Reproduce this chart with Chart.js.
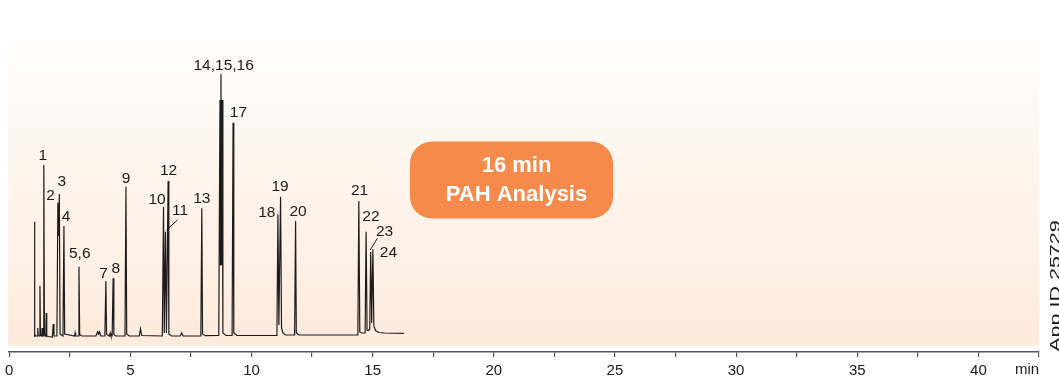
<!DOCTYPE html>
<html>
<head>
<meta charset="utf-8">
<script src="https://cdn.jsdelivr.net/npm/chart.js@4.4.1/dist/chart.umd.min.js"></script>
<style>
  html, body { margin: 0; padding: 0; background: #ffffff; }
  #wrap { width: 1059px; height: 380px; position: relative; }
</style>
</head>
<body>
<div id="wrap"><canvas id="c" width="1059" height="380"></canvas></div>
<script>
// ---------- DATA ----------
// Retention time (min) of each trace point
const traceTime = [1.03,1.04,1.065,1.10, 1.16,1.18,1.20, 1.25,1.27,1.29, 1.34,1.36,1.38,
  1.41,1.43,1.455, 1.51,1.53,1.55, 1.62, 1.78,1.82,1.85, 1.97,2.01,2.04,2.07,2.10,
  2.22,2.26,2.29, 2.70,2.72,2.74, 2.85,2.88,2.91, 3.00, 3.58,3.65,3.69,3.73,3.78,
  3.95,3.99,4.02, 4.14,4.17,4.20, 4.25,4.29,4.32,4.40, 4.78,4.82,4.85,4.95,
  5.37,5.42,5.47, 6.32,6.37,6.40,6.45,6.49,6.56,6.59,6.70, 7.06,7.12,7.18,
  7.91,7.95,7.98,8.10, 8.65,8.70,8.72,8.74,8.765,8.79,8.82,8.95, 9.20,9.24,9.27,9.40,
  11.05,11.09,11.13,11.20,11.24,11.30,11.40, 11.78,11.82,11.85,11.95,
  14.39,14.43,14.47,14.55,14.69,14.73,14.77,14.83,14.88,14.92,14.96,15.01,15.05,15.12,15.25,15.5,16.29];
// Detector response at each point (arbitrary units, baseline = 0)
const traceSignal = [-0.5,114.3,2,0, 0,8,0, 0,50.3,1, 0,8,0,
  0,171,2, 0,23,0, -0.5, -1,12,0, 0,133.3,100,142,2,
  0,110,2, 0,3,0, 0,69.3,1.5, 0, 0,4.3,2,4,0,
  0,55,1.5, 0,3,0, 0,57.7,1.5,0, 0,149.3,2,0,
  0,7,0.5, 0,129.3,3,104.3,3,155,2,0, 0,3,0,
  0,127.7,2,0.3, 0.5,236,71,262,71,236,3,0.5, 0.5,213.3,3,0.5,
  0.5,121.7,11,139.3,8,3,1, 1,115,3,1,
  1,135,4,3,3,104.3,6,5.5,7,84.3,13,86.7,10,5.5,3.5,3,2.7];

// Labelled peaks
const peakLabels  = ['1','2','3','4','5,6','7','8','9','10','11','12','13','14,15,16','17','18','19','20','21','22','23','24'];
const peakTimes   = [1.43,2.01,2.07,2.26,2.88,3.99,4.29,4.82,6.37,6.45,6.56,7.95,8.74,9.24,11.09,11.20,11.82,14.43,14.73,14.92,15.01];
const peakHeights = [171,133.3,142,110,69.3,55,57.7,149.3,129.3,104.3,155,127.7,262,213.3,121.7,139.3,115,135,104.3,84.3,86.7];

// Axis
const xMin = 0, xMax = 42.5, xStep = 2.5, xLabelEvery = 5;
const xUnit = 'min';
const badgeLines = ['16 min', 'PAH Analysis'];
const sideNote = 'App ID 25729';

// ---------- LAYOUT / STYLE ----------
const FONT = "'Liberation Sans', Arial, Helvetica, sans-serif";
// label centre offset (px) from peak apex
const labelOffsets = [[-1,-9.2],[-7.3,-6.9],[2.5,-12],[2.2,-9],[0.8,-12.7],[-2.2,-7],[2.7,-10],[0,-8.4],
  [-6.4,-7.2],[14.5,-20.9],[0.4,-10.7],[0,-10],[2.7,-8.5],[5.4,-10],[-11.1,-1.8],[-0.5,-10.4],[2.5,-9],
  [0.7,-10.5],[4.8,-14.5],[13.9,-20.4],[15.5,3.5]];
// leader lines: [peak index, x1, y1, x2, y2] offsets from apex
const leaders = [[9, 1, -1.7, 12, -11.7], [19, -0.6, -1.7, 6.7, -13.4]];

const points = traceTime.map((t, i) => ({x: t, y: traceSignal[i]}));

const bgPlugin = {
  id: 'bg',
  beforeDraw(chart) {
    const {ctx, chartArea: a} = chart;
    const top = a.top, bottom = a.bottom - 6.5;
    const g = ctx.createLinearGradient(0, top, 0, bottom);
    g.addColorStop(0, '#fffdfb');
    g.addColorStop(0.5, '#fef4eb');
    g.addColorStop(1, '#fdebdc');
    ctx.save();
    ctx.fillStyle = g;
    ctx.fillRect(a.left - 1, top, a.right - a.left + 1, bottom - top);
    ctx.restore();
  }
};

const annoPlugin = {
  id: 'anno',
  afterDatasetsDraw(chart) {
    const {ctx, scales: {x, y}} = chart;
    ctx.save();
    // peak labels
    ctx.fillStyle = '#1a1a1a';
    ctx.font = `15.5px ${FONT}`;
    ctx.textAlign = 'center';
    ctx.textBaseline = 'middle';
    peakLabels.forEach((lab, i) => {
      const px = x.getPixelForValue(peakTimes[i]);
      const py = y.getPixelForValue(peakHeights[i]);
      ctx.fillText(lab, px + labelOffsets[i][0], py + labelOffsets[i][1]);
    });
    // leader lines
    ctx.strokeStyle = '#1a1a1a';
    ctx.lineWidth = 1;
    leaders.forEach(([i, x1, y1, x2, y2]) => {
      const px = x.getPixelForValue(peakTimes[i]);
      const py = y.getPixelForValue(peakHeights[i]);
      ctx.beginPath();
      ctx.moveTo(px + x1, py + y1);
      ctx.lineTo(px + x2, py + y2);
      ctx.stroke();
    });
    // orange badge
    ctx.fillStyle = '#f68a4a';
    ctx.beginPath();
    ctx.roundRect(410, 141.5, 203, 77, 22);
    ctx.fill();
    ctx.fillStyle = '#ffffff';
    ctx.font = `bold 22px ${FONT}`;
    ctx.textAlign = 'center';
    ctx.textBaseline = 'middle';
    ctx.fillText(badgeLines[0], 516.5, 166);
    ctx.fillText(badgeLines[1], 516.5, 195);
    ctx.restore();
  },
  afterDraw(chart) {
    const {ctx, chartArea: a} = chart;
    ctx.save();
    ctx.fillStyle = '#1a1a1a';
    ctx.font = `15px ${FONT}`;
    ctx.textAlign = 'center';
    ctx.textBaseline = 'middle';
    ctx.fillText(xUnit, a.right - 12, 370);
    // rotated side note
    ctx.translate(1059.5, 286);
    ctx.rotate(-Math.PI / 2);
    const w = ctx.measureText(sideNote).width;
    ctx.scale(131.5 / w, 1);
    ctx.textBaseline = 'alphabetic';
    ctx.fillText(sideNote, 0, 0);
    ctx.restore();
  }
};

new Chart(document.getElementById('c'), {
  type: 'scatter',
  data: {
    datasets: [{
      data: points,
      showLine: true,
      borderColor: '#1c1c1c',
      borderWidth: 1.2,
      pointRadius: 0,
      tension: 0,
      fill: false
    }]
  },
  options: {
    responsive: false,
    animation: false,
    devicePixelRatio: 1,
    layout: { padding: { left: 8, right: 20, top: 40, bottom: 0 } },
    plugins: { legend: { display: false }, tooltip: { enabled: false }, title: { display: false } },
    scales: {
      x: {
        type: 'linear',
        min: xMin, max: xMax,
        afterFit(s) { s.height = 28; },
        ticks: {
          stepSize: xStep,
          autoSkip: false,
          maxRotation: 0,
          padding: 5,
          color: '#1a1a1a',
          font: { size: 15, family: FONT },
          callback: (v) => (Math.abs(v % xLabelEvery) < 1e-9 && v <= 40) ? String(v) : ''
        },
        grid: { drawOnChartArea: false, drawTicks: true, tickLength: 5, color: '#555555', lineWidth: 1.2 },
        border: { display: true, color: '#555555', width: 1.5 }
      },
      y: {
        display: false,
        min: -16, max: 296
      }
    }
  },
  plugins: [bgPlugin, annoPlugin]
});
</script>
</body>
</html>
